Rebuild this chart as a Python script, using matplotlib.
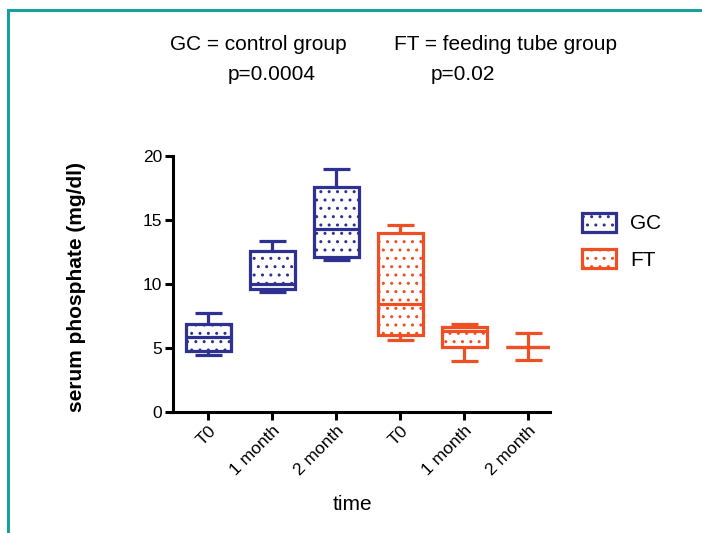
import matplotlib.pyplot as plt
from matplotlib.lines import Line2D
from matplotlib.patches import Patch

plt.rcParams['font.family'] = ['Liberation Sans', 'DejaVu Sans']

# ===== данные =====
groups = ['GC', 'GC', 'GC', 'FT', 'FT', 'FT']
tick_labels = ['T0', '1 month', '2 month', 'T0', '1 month', '2 month']
whislo = [4.45, 9.4, 11.9, 5.6, 4.0, 4.1]
q1 = [4.8, 9.6, 12.1, 6.0, 5.05, 5.1]
med = [5.85, 10.0, 14.3, 8.4, 6.35, 5.1]
q3 = [6.9, 12.6, 17.6, 14.0, 6.65, 5.1]
whishi = [7.7, 13.35, 18.95, 14.6, 6.9, 6.2]

colors = {'GC': '#2e3192', 'FT': '#f04e23'}
teal = '#17a09c'

W, H = 702, 533
fig = plt.figure(figsize=(W / 100, H / 100), dpi=100)
ax = fig.add_axes([173 / W, 121 / H, (550 - 173) / W, (412 - 156) / H])

# ===== ящики =====
for i in range(len(groups)):
    stats = [dict(med=med[i], q1=q1[i], q3=q3[i], whislo=whislo[i],
                  whishi=whishi[i], fliers=[])]
    c = colors[groups[i]]
    lp = dict(color=c, linewidth=2.3, solid_capstyle='butt')
    ax.bxp(stats, positions=[i + 1], widths=0.7, capwidths=0.42,
           patch_artist=True, showfliers=False,
           boxprops=dict(facecolor='white', edgecolor=c, linewidth=2.3, hatch='..'),
           whiskerprops=lp, capprops=lp, medianprops=lp)

ax.set_xlim(0.45, 6.34)
ax.set_ylim(0, 20)
ax.set_yticks([0, 5, 10, 15, 20])
ax.set_xticks(range(1, 7))
ax.set_xticklabels(tick_labels, rotation=45, ha='right', rotation_mode='anchor')
for s in ['top', 'right']:
    ax.spines[s].set_visible(False)
for s in ['left', 'bottom']:
    ax.spines[s].set_linewidth(2.2)
ax.tick_params(width=2.2, length=6, labelsize=12.5, pad=2)

# ===== подписи =====
fig.text(258 / W, 1 - 44 / H, 'GC = control group', ha='center', va='center', fontsize=15)
fig.text(505 / W, 1 - 44 / H, 'FT = feeding tube group', ha='center', va='center', fontsize=15)
fig.text(272 / W, 1 - 74 / H, 'p=0.0004', ha='center', va='center', fontsize=15)
fig.text(463 / W, 1 - 74 / H, 'p=0.02', ha='center', va='center', fontsize=15)
fig.text(77 / W, 1 - 287 / H, 'serum phosphate (mg/dl)', rotation=90,
         ha='center', va='center', fontsize=15, fontweight='bold')
fig.text(352 / W, 1 - 505 / H, 'time', ha='center', va='center', fontsize=15)

# ===== легенда =====
handles = [Patch(facecolor='white', edgecolor=colors[g], linewidth=2.3, hatch='..', label=g)
           for g in ['GC', 'FT']]
fig.legend(handles=handles, loc='upper left', bbox_to_anchor=(582 / W, 1 - 213 / H),
           frameon=False, fontsize=15, borderpad=0, borderaxespad=0,
           handlelength=1.65, handleheight=1.0, handletextpad=0.65, labelspacing=0.75)

# ===== рамка =====
fig.add_artist(Line2D([8 / W, 1], [1 - 10 / H, 1 - 10 / H], color=teal, linewidth=2.2))
fig.add_artist(Line2D([8 / W, 8 / W], [0, 1 - 10 / H], color=teal, linewidth=2.2))

fig.savefig('out.png', dpi=100)
